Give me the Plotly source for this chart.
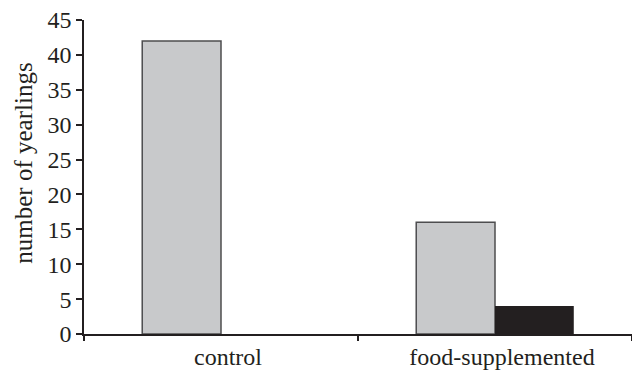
import plotly.graph_objects as go

categories = ["control", "food-supplemented"]
grey_values = [42, 16]
black_values = [0, 4]
y_ticks = [0, 5, 10, 15, 20, 25, 30, 35, 40, 45]
y_title = "number of yearlings"

FONT = "Liberation Serif, Times New Roman, serif"
AXIS = "#231f20"
FS = 24

fig = go.Figure()
fig.add_trace(go.Bar(x=categories, y=grey_values,
                     marker=dict(color="#c8c9cb", line=dict(color="#4d4d4f", width=1.5)),
                     showlegend=False))
fig.add_trace(go.Bar(x=categories, y=black_values,
                     marker=dict(color="#231f20", line=dict(color="#231f20", width=0)),
                     showlegend=False))

fig.update_layout(
    width=632, height=372,
    margin=dict(l=84, r=0, t=20, b=38),
    paper_bgcolor="white", plot_bgcolor="white",
    barmode="group", bargap=0.425, bargroupgap=0,
    font=dict(family=FONT, size=FS, color=AXIS),
    annotations=[dict(text=y_title, textangle=-90, xref="paper", yref="paper",
                      x=-0.111, y=0.543, xanchor="center", yanchor="middle",
                      showarrow=False, font=dict(family=FONT, size=25, color=AXIS))],
)
fig.update_xaxes(
    type="category", tickson="boundaries", ticks="outside", ticklen=5, tickwidth=1.5, tickcolor=AXIS,
    showline=True, linecolor=AXIS, linewidth=1.5, showgrid=False, zeroline=False,
    tickfont=dict(family=FONT, size=FS, color=AXIS), automargin=False, ticklabelshift=7,
)
fig.update_yaxes(
    range=[0, 45], tickvals=y_ticks, ticks="outside", ticklen=6, tickwidth=1.5, tickcolor=AXIS,
    showline=True, linecolor=AXIS, linewidth=1.5, showgrid=False, zeroline=False,
    tickfont=dict(family=FONT, size=FS, color=AXIS), automargin=False,
)

fig.write_html("out.html", config={"displayModeBar": False},
               post_script="document.body.style.margin='0';")
